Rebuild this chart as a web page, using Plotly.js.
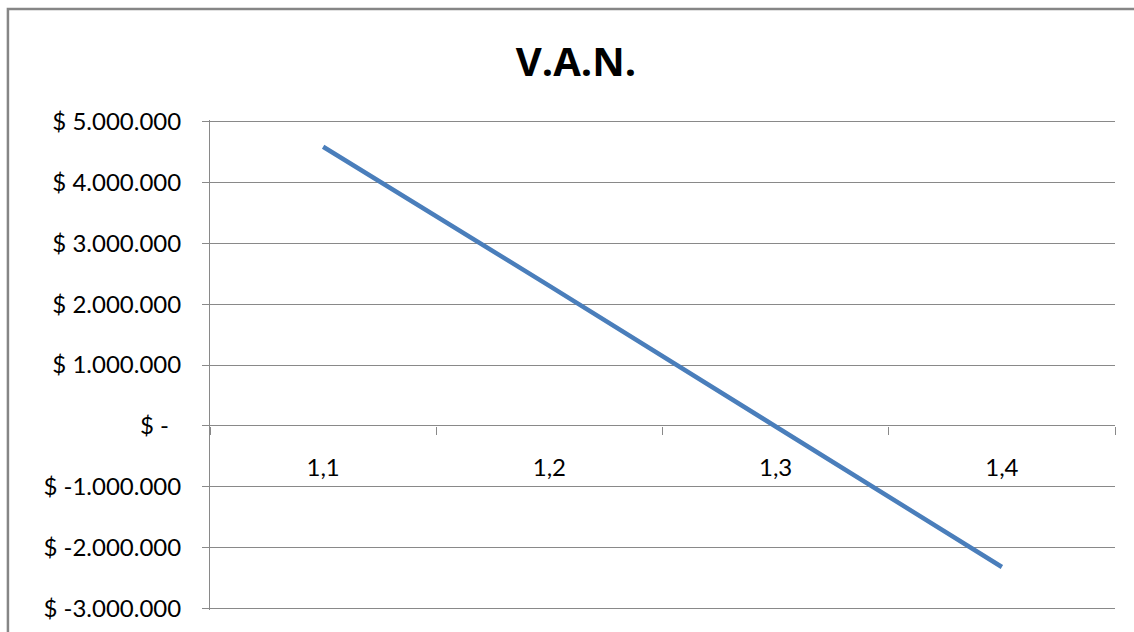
<!DOCTYPE html>
<html>
<head>
<meta charset="utf-8">
<script src="https://cdn.plot.ly/plotly-3.0.1.min.js"></script>
<style>
html,body{margin:0;padding:0;background:#fff;overflow:hidden;}
#chart{width:1134px;height:632px;}
</style>
</head>
<body>
<div id="chart"></div>
<script>
var categories = ["1,1", "1,2", "1,3", "1,4"];
var vanValues = [4585000, 2300000, -10000, -2318000];
var yTickVals = [5000000, 4000000, 3000000, 2000000, 1000000, 0, -1000000, -2000000, -3000000];
var yTickText = ["$ 5.000.000", "$ 4.000.000", "$ 3.000.000", "$ 2.000.000", "$ 1.000.000",
                 "$ -\u00a0\u00a0", "$ -1.000.000", "$ -2.000.000", "$ -3.000.000"];
var chartTitle = "V.A.N.";

var W = 1134, H = 632;
var L = 210, R = 1134 - 1114.7, T = 120, B = 632 - 610.2;
var pw = W - L - R, ph = H - T - B;
var yMin = -3000000, yMax = 5000000, pad = 24600;
function px2x(p){ return (p - L) / pw; }
function px2y(p){ return (H - B - p) / ph; }

var trace = {
  x: categories,
  y: vanValues,
  type: 'scatter',
  mode: 'lines',
  line: {color: '#4a7ebb', width: 4.5},
  hoverinfo: 'skip'
};

var borderPath = 'M ' + px2x(8) + ',' + px2y(700) +
                 ' L ' + px2x(8) + ',' + px2y(9) +
                 ' L ' + px2x(1250) + ',' + px2y(9);

var layout = {
  width: W, height: H,
  margin: {l: L, r: R, t: T, b: B, pad: 0},
  paper_bgcolor: '#ffffff',
  plot_bgcolor: '#ffffff',
  showlegend: false,
  font: {family: 'Lato, sans-serif', color: '#000000', size: 24},
  title: {
    text: '<b>' + chartTitle + '</b>',
    font: {family: 'Open Sans, sans-serif', size: 40, color: '#000000'},
    xref: 'container', yref: 'container',
    x: 576 / W, xanchor: 'center',
    y: 1 - 62 / H, yanchor: 'middle'
  },
  xaxis: {
    type: 'category',
    range: [-0.5, 3.5],
    anchor: 'free',
    position: (0 - yMin + pad) / (yMax - yMin + 2 * pad),
    showline: false,
    showgrid: false,
    zeroline: false,
    ticks: 'outside',
    tickson: 'boundaries',
    ticklen: 8,
    tickcolor: '#898989',
    tickwidth: 1,
    ticklabelstandoff: 25,
    tickfont: {family: 'Lato, sans-serif', size: 24, color: '#000000'},
    fixedrange: true
  },
  yaxis: {
    range: [yMin - pad, yMax + pad],
    tickmode: 'array',
    tickvals: yTickVals,
    ticktext: yTickText,
    showline: true,
    linecolor: '#898989',
    linewidth: 1,
    showgrid: true,
    gridcolor: '#898989',
    gridwidth: 1,
    zeroline: true,
    zerolinecolor: '#898989',
    zerolinewidth: 1,
    ticks: 'outside',
    ticklen: 7,
    tickcolor: '#898989',
    tickwidth: 1,
    ticklabelstandoff: 16,
    tickfont: {family: 'Lato, sans-serif', size: 24, color: '#000000'},
    fixedrange: true
  },
  shapes: [
    {type: 'path', xref: 'paper', yref: 'paper',
     path: borderPath,
     line: {color: '#868686', width: 2.5},
     fillcolor: 'rgba(0,0,0,0)',
     layer: 'below'}
  ]
};

Plotly.newPlot('chart', [trace], layout, {displayModeBar: false, staticPlot: true});
</script>
</body>
</html>
